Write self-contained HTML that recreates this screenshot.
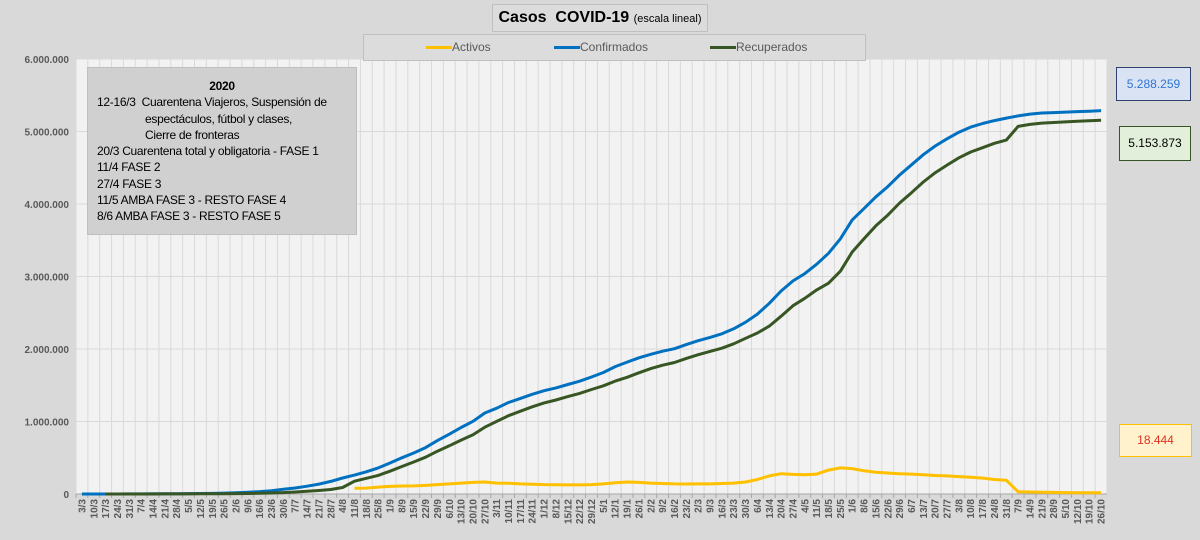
<!DOCTYPE html>
<html><head><meta charset="utf-8">
<style>
body{margin:0;width:1200px;height:540px;background:#d9d9d9;font-family:"Liberation Sans",sans-serif;overflow:hidden;position:relative}
.box{position:absolute;box-sizing:border-box}
</style></head><body>
<svg id="chart" width="1200" height="540" style="position:absolute;left:0;top:0"></svg>
<div class="box" style="left:492px;top:4px;width:216px;height:28px;border:1px solid #c0c0c0;background:#dcdcdc;text-align:center;line-height:26px;font-weight:bold;font-size:16px;color:#000">Casos&nbsp; COVID-19 <span style="font-weight:normal;font-size:11px">(escala lineal)</span></div>
<div class="box" style="left:363px;top:34px;width:503px;height:27px;border:1px solid #c0c0c0;background:#dcdcdc;font-size:12px;color:#595959">
 <div style="position:absolute;left:62px;top:5px"><span style="display:inline-block;width:26px;height:3px;background:#ffc000;vertical-align:middle"></span>Activos</div>
 <div style="position:absolute;left:190px;top:5px"><span style="display:inline-block;width:26px;height:3px;background:#0070c0;vertical-align:middle"></span>Confirmados</div>
 <div style="position:absolute;left:346px;top:5px"><span style="display:inline-block;width:26px;height:3px;background:#375623;vertical-align:middle"></span>Recuperados</div>
</div>
<div class="box" style="left:87px;top:67px;width:270px;height:168px;border:1px solid #bfbfbf;background:#d0d0d0;font-size:12px;color:#000;line-height:16.3px;padding:10px 0 0 9px;letter-spacing:-0.3px">
 <div style="text-align:center;font-weight:bold;padding-right:9px">2020</div>
 <div>12-16/3&nbsp; Cuarentena Viajeros, Suspensión de</div>
 <div style="padding-left:48px">espectáculos, fútbol y clases,</div>
 <div style="padding-left:48px">Cierre de fronteras</div>
 <div>20/3 Cuarentena total y obligatoria - FASE 1</div>
 <div>11/4 FASE 2</div>
 <div>27/4 FASE 3</div>
 <div>11/5 AMBA FASE 3 - RESTO FASE 4</div>
 <div>8/6 AMBA FASE 3 - RESTO FASE 5</div>
</div>
<div class="box" style="left:1116px;top:67px;width:75px;height:34px;border:1px solid #2f3f6f;background:#dae3f3;color:#2e75d6;font-size:12px;text-align:center;line-height:32px">5.288.259</div>
<div class="box" style="left:1119px;top:126px;width:72px;height:35px;border:1px solid #375623;background:#e2efda;color:#000;font-size:12px;text-align:center;line-height:33px">5.153.873</div>
<div class="box" style="left:1119px;top:424px;width:73px;height:33px;border:1px solid #ffc000;background:#fff2cc;color:#e03020;font-size:12px;text-align:center;line-height:31px">18.444</div>
<script>
const categories=["3/3","10/3","17/3","24/3","31/3","7/4","14/4","21/4","28/4","5/5","12/5","19/5","26/5","2/6","9/6","16/6","23/6","30/6","7/7","14/7","21/7","28/7","4/8","11/8","18/8","25/8","1/9","8/9","15/9","22/9","29/9","6/10","13/10","20/10","27/10","3/11","10/11","17/11","24/11","1/12","8/12","15/12","22/12","29/12","5/1","12/1","19/1","26/1","2/2","9/2","16/2","23/2","2/3","9/3","16/3","23/3","30/3","6/4","13/4","20/4","27/4","4/5","11/5","18/5","25/5","1/6","8/6","15/6","22/6","29/6","6/7","13/7","20/7","27/7","3/8","10/8","17/8","24/8","31/8","7/9","14/9","21/9","28/9","5/10","12/10","19/10","26/10"];
const confirmados=[0,0.02,0.08,0.4,1.0,1.6,2.3,3.1,4.3,5.4,6.9,8.8,12.6,18.3,24.8,32.8,44.9,64.5,83.4,106.9,136.1,173.4,220.7,260.9,305.9,359.6,428.2,500,565.4,640.1,736.6,824.5,917,1002.7,1116.6,1183.1,1262.5,1318.4,1374.6,1424.5,1463.1,1510.2,1555.3,1613.9,1676.2,1757.4,1819.6,1878.9,1927.2,1970,2004,2060,2114,2160,2210,2278,2370,2482,2630,2800,2940,3040,3170,3320,3520,3780,3940,4100,4240,4400,4540,4680,4800,4900,4990,5060,5110,5150,5185,5215,5240,5255,5260,5268,5275,5280,5288.3];
const recuperados=[null,null,0,0.1,0.3,0.4,0.6,0.8,1.2,1.7,2.3,2.9,3.9,5.5,7.5,10,14,20,28,37,48,62,90,176,217,257,314,379,441,508,590,665,743,816,922,1002,1080,1142,1203,1256,1296,1344,1388,1441,1492,1557,1609,1672,1729,1776,1814,1871,1922,1967,2011,2072,2147,2221,2316,2452,2597,2699,2815,2907,3073,3338,3523,3700,3847,4014,4156,4303,4432,4537,4637,4717,4777,4837,4882,5071,5098,5116,5124,5133,5142,5147,5153.9];
const activos=[null,null,null,null,null,null,null,null,null,null,null,null,null,null,null,null,null,null,null,null,null,null,null,80,82,95,105,110,112,118,130,140,150,160,165,150,148,140,135,130,128,125,125,130,140,155,165,160,150,145,140,138,140,140,145,150,165,200,250,280,270,265,275,330,360,350,320,300,290,280,275,265,255,250,240,230,220,200,190,30,28,25,22,20,18,18,18.4];
const yTicks=[0,1000,2000,3000,4000,5000,6000];
const yTickLabels=["0","1.000.000","2.000.000","3.000.000","4.000.000","5.000.000","6.000.000"];

const svg=document.getElementById('chart');
const NS='http://www.w3.org/2000/svg';
const L=76,R=1107,T=59,B=494,YMAX=6000;
const band=(R-L)/categories.length;
const x=i=>L+(i+0.5)*band;
const y=v=>B-(v/YMAX)*(B-T);
function mk(tag,attrs){const e=document.createElementNS(NS,tag);for(const k in attrs)e.setAttribute(k,attrs[k]);svg.appendChild(e);return e;}
const bg=mk('rect',{x:L,y:T,width:R-L,height:B-T,fill:'#f2f2f2'});


for(let i=0;i<=categories.length;i++){
  const g=mk('line',{x1:L+i*band,x2:L+i*band,y1:T,y2:B,stroke:'#d9d9d9','stroke-width':1});
  
  
}
yTicks.forEach((v,k)=>{
  const g=mk('line',{x1:L,x2:R,y1:y(v),y2:y(v),stroke:'#d9d9d9','stroke-width':1});
  
  
  const t=mk('text',{x:69,y:y(v)+4,'text-anchor':'end','font-size':'10','font-weight':'bold',fill:'#595959','font-family':'Liberation Sans, sans-serif'});
  t.textContent=yTickLabels[k];
  
  
});
const ax=mk('line',{x1:L,x2:R,y1:B,y2:B,stroke:'#a6a6a6','stroke-width':1});


categories.forEach((c,i)=>{
  const tk=mk('line',{x1:L+i*band,x2:L+i*band,y1:B,y2:B+4,stroke:'#a6a6a6'});
  
  
  const t=mk('text',{x:0,y:0,'text-anchor':'end','font-size':'10','font-weight':'bold',fill:'#595959','font-family':'Liberation Sans, sans-serif',transform:`translate(${x(i)+3.5},${B+5}) rotate(-90)`});
  t.textContent=c;
  
  
});
function line(data,color,name){
  let d='';let pen=false;
  data.forEach((v,i)=>{if(v===null){pen=false;return;}d+=(pen?'L':'M')+x(i).toFixed(1)+','+y(v).toFixed(1);pen=true;});
  const p=mk('path',{d:d,fill:'none',stroke:color,'stroke-width':3,'stroke-linejoin':'round'});
  
  
}
line(activos,'#ffc000','series-activos');
line(confirmados,'#0070c0','series-confirmados');
line(recuperados,'#375623','series-recuperados');
</script>
</body></html>
